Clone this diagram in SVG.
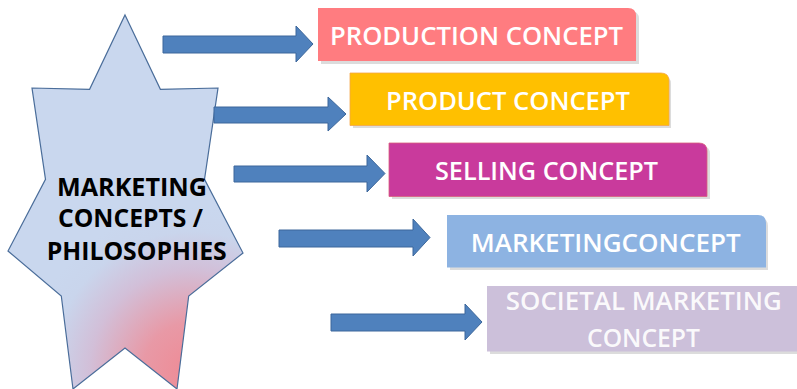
<svg xmlns="http://www.w3.org/2000/svg" width="797" height="389" viewBox="0 0 797 389">
  <defs>
    <radialGradient id="starFill" gradientUnits="userSpaceOnUse" cx="192" cy="372" r="165">
      <stop offset="0" stop-color="#ef8a94"/>
      <stop offset="0.3" stop-color="#e899a6"/>
      <stop offset="0.62" stop-color="#d2bfd8"/>
      <stop offset="0.85" stop-color="#c9d5ec"/>
      <stop offset="1" stop-color="#c9d7ee"/>
    </radialGradient>
  </defs>
  <style>
    .arrow { fill: #4f81bd; stroke: #3c679b; stroke-width: 1; stroke-linejoin: miter; }
    .star { fill: url(#starFill); stroke: #4a6d9a; stroke-width: 1.2; stroke-linejoin: miter; }
    .starText { font-family: "Open Sans", "Liberation Sans", sans-serif; font-weight: 700; font-size: 25px; fill: #000000; text-anchor: middle; }
    .boxText { font-family: "Open Sans", "Liberation Sans", sans-serif; font-weight: 600; font-size: 25.5px; fill: #ffffff; text-anchor: middle; }
    .shadow { fill: #9a9a9a; opacity: 0.35; }
  </style>
  <rect width="797" height="389" fill="#ffffff"/>

  <g id="star">
    <polygon class="star" points="125,15 160.4,89.3 218,88 204.5,179.4 243,253 188.7,296 177,389 125,348 73,389 61.3,296 8,251 45.5,179.4 32,88 89.6,89.3"/>
    <text class="starText" x="132" y="196" textLength="150" lengthAdjust="spacingAndGlyphs">MARKETING</text>
    <text class="starText" x="130.5" y="227" textLength="145" lengthAdjust="spacingAndGlyphs">CONCEPTS /</text>
    <text class="starText" x="136.7" y="260" textLength="180" lengthAdjust="spacingAndGlyphs">PHILOSOPHIES</text>
  </g>

  <g id="connectors">
    <polygon class="arrow" points="163,36 296,36 296,26 313,44 296,62 296,53 163,53"/>
    <polygon class="arrow" points="214,107 328,107 328,97 346,114 328,131 328,123 214,123"/>
    <polygon class="arrow" points="234,166 367,166 367,155 385,173.5 367,192 367,182 234,182"/>
    <polygon class="arrow" points="279,230 413,230 413,219 430,237.5 413,256 413,247 279,247"/>
    <polygon class="arrow" points="331,314 465,314 465,304 482,322 465,340 465,331 331,331"/>
  </g>

  <g id="production-concept">
    <path class="shadow" d="M321,11 H630 Q639,11 639,19 V64 H321 Z"/>
    <path d="M318,8 H628 Q636,8 636,16 V61 H318 Z" fill="#ff7c80"/>
    <text class="boxText" x="476.5" y="45" textLength="293" lengthAdjust="spacingAndGlyphs">PRODUCTION CONCEPT</text>
  </g>

  <g id="product-concept">
    <path class="shadow" d="M353,76 H663 Q671,76 671,84 V128 H353 Z"/>
    <path d="M350,73 H661 Q669,73 669,81 V125.5 H350 Z" fill="#ffc000" stroke="#f4a64a" stroke-width="0.8"/>
    <text class="boxText" x="508" y="110" textLength="244" lengthAdjust="spacingAndGlyphs">PRODUCT CONCEPT</text>
  </g>

  <g id="selling-concept">
    <path class="shadow" d="M392,146 H702 Q710,146 710,154 V199 H392 Z"/>
    <path d="M389,143 H699 Q707,143 707,151 V196.5 H389 Z" fill="#c93a9c" stroke="#d9607e" stroke-width="0.8"/>
    <text class="boxText" x="546.5" y="180" textLength="223" lengthAdjust="spacingAndGlyphs">SELLING CONCEPT</text>
  </g>

  <g id="marketing-concept">
    <path class="shadow" d="M450,218 H760 Q768,218 768,226 V270 H450 Z"/>
    <path d="M447,215 H758 Q766,215 766,223 V267.5 H447 Z" fill="#8db3e2"/>
    <text class="boxText" x="605.7" y="251.7" textLength="270" lengthAdjust="spacingAndGlyphs">MARKETINGCONCEPT</text>
  </g>

  <g id="societal-marketing-concept">
    <path class="shadow" d="M490,289 H797 V354 H490 Z"/>
    <path d="M487,286 H797 V351.5 H487 Z" fill="#ccc0da"/>
    <text class="boxText" x="643.8" y="310" textLength="276" lengthAdjust="spacingAndGlyphs" fill-opacity="0.92">SOCIETAL MARKETING</text>
    <text class="boxText" x="643.5" y="346.5" textLength="113" lengthAdjust="spacingAndGlyphs" fill-opacity="0.92">CONCEPT</text>
  </g>
</svg>
